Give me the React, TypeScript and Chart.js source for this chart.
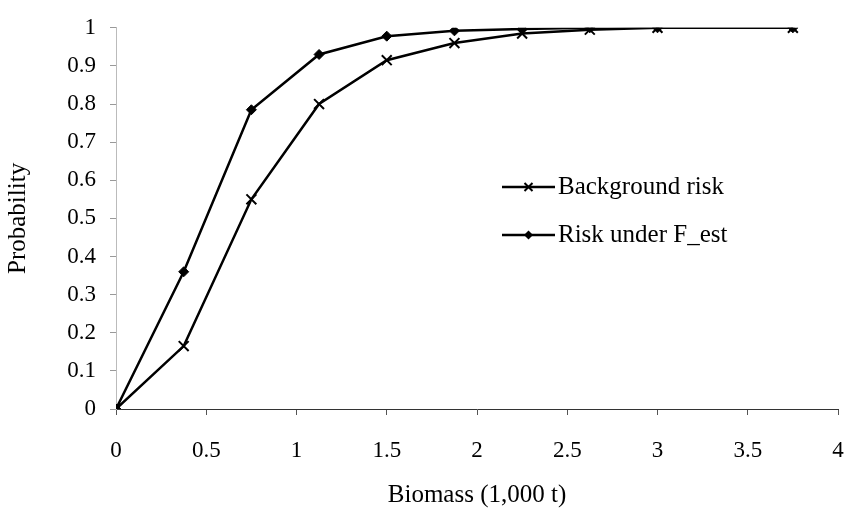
import React, { useEffect, useRef } from "react";
import { Chart, registerables } from "chart.js";

Chart.register(...registerables);

const biomass = [0, 0.375, 0.75, 1.125, 1.5, 1.875, 2.25, 2.625, 3, 3.75];
const backgroundRisk = [0, 0.165, 0.55, 0.8, 0.915, 0.96, 0.985, 0.995, 1, 1];
const riskUnderFest = [0, 0.36, 0.785, 0.93, 0.978, 0.992, 0.997, 1, 1, 1];
const seriesNames = ["Background risk", "Risk under F_est"];
const xTitle = "Biomass (1,000 t)";
const yTitle = "Probability";

const FONT = "'Liberation Serif', 'Times New Roman', serif";

const legendPlugin = {
  id: "customLegend",
  afterDraw(chart: any) {
    const ctx = chart.ctx;
    const x0 = 502;
    const x1 = 555;
    const rows = [187, 235];
    ctx.save();
    chart.data.datasets.forEach((ds: any, i: number) => {
      const y = rows[i];
      ctx.strokeStyle = "#000";
      ctx.lineWidth = 2.5;
      ctx.beginPath();
      ctx.moveTo(x0, y);
      ctx.lineTo(x1, y);
      ctx.stroke();
      const cx = (x0 + x1) / 2;
      if (ds.pointStyle === "crossRot") {
        const r = 4;
        ctx.lineWidth = 2;
        ctx.beginPath();
        ctx.moveTo(cx - r, y - r);
        ctx.lineTo(cx + r, y + r);
        ctx.moveTo(cx - r, y + r);
        ctx.lineTo(cx + r, y - r);
        ctx.stroke();
      } else {
        const r = 4.5;
        ctx.fillStyle = "#000";
        ctx.beginPath();
        ctx.moveTo(cx, y - r);
        ctx.lineTo(cx + r, y);
        ctx.lineTo(cx, y + r);
        ctx.lineTo(cx - r, y);
        ctx.closePath();
        ctx.fill();
      }
      ctx.fillStyle = "#000";
      ctx.font = `25px ${FONT}`;
      ctx.textBaseline = "middle";
      ctx.textAlign = "left";
      ctx.fillText(ds.label, x1 + 3, y);
    });
    ctx.restore();
  },
};

export default function App() {
  const ref = useRef<HTMLCanvasElement>(null);

  useEffect(() => {
    if (!ref.current) return;
    const mk = (ys: number[]) => biomass.map((x, i) => ({ x, y: ys[i] }));
    const chart = new Chart(ref.current, {
      type: "line",
      data: {
        datasets: [
          {
            label: seriesNames[0],
            data: mk(backgroundRisk),
            borderColor: "#000",
            backgroundColor: "#000",
            borderWidth: 2.5,
            pointStyle: "crossRot",
            pointRadius: 7,
            pointBorderWidth: 2,
            pointBorderColor: "#000",
            tension: 0,
          },
          {
            label: seriesNames[1],
            data: mk(riskUnderFest),
            borderColor: "#000",
            backgroundColor: "#000",
            borderWidth: 2.5,
            pointStyle: "rectRot",
            pointRadius: 5,
            pointBorderWidth: 1,
            pointBorderColor: "#000",
            pointBackgroundColor: "#000",
            tension: 0,
          },
        ],
      },
      options: {
        animation: false,
        responsive: true,
        maintainAspectRatio: false,
        layout: { padding: { top: 26, right: 11, left: 0, bottom: 0 } },
        plugins: {
          legend: { display: false },
          tooltip: { enabled: false },
        },
        scales: {
          x: {
            type: "linear",
            min: 0,
            max: 4,
            afterFit(scale: any) {
              scale.height = 101;
              scale.paddingRight = 0;
              scale.paddingLeft = 0;
            },
            ticks: {
              stepSize: 0.5,
              color: "#000",
              padding: 22,
              font: { family: FONT, size: 23 },
              maxRotation: 0,
              callback: (v: any) => String(Number(Number(v).toFixed(2))),
            },
            grid: {
              display: true,
              drawOnChartArea: false,
              drawTicks: true,
              tickLength: 6,
              color: "#555",
            },
            border: { display: true, color: "#333", width: 1 },
            title: {
              display: true,
              text: xTitle,
              color: "#000",
              font: { family: FONT, size: 25 },
              padding: { top: 14, bottom: 0 },
            },
          },
          y: {
            type: "linear",
            min: 0,
            max: 1,
            afterFit(scale: any) {
              scale.width = 116;
            },
            ticks: {
              stepSize: 0.1,
              color: "#000",
              padding: 14,
              font: { family: FONT, size: 23 },
              callback: (v: any) => String(Number(Number(v).toFixed(2))),
            },
            grid: {
              display: true,
              drawOnChartArea: false,
              drawTicks: true,
              tickLength: 6,
              color: "#999",
            },
            border: { display: true, color: "#bbb", width: 1 },
            title: {
              display: true,
              text: yTitle,
              color: "#000",
              font: { family: FONT, size: 25 },
              padding: { top: 3, bottom: 0 },
            },
          },
        },
      },
      plugins: [legendPlugin],
    });
    return () => chart.destroy();
  }, []);

  return (
    <div style={{ position: "absolute", left: 0, top: 0, width: 849, height: 510, background: "#fff" }}>
      <canvas ref={ref} />
    </div>
  );
}
